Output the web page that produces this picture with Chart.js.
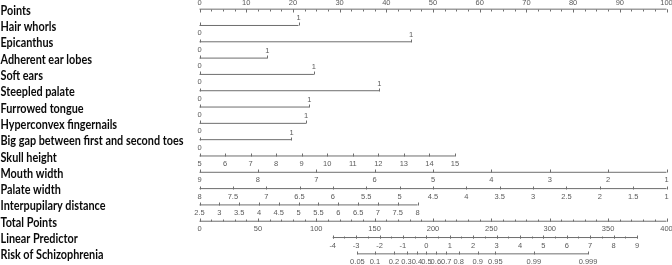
<!DOCTYPE html>
<html>
<head>
<meta charset="utf-8">
<script src="https://cdn.jsdelivr.net/npm/chart.js@4/dist/chart.umd.min.js"></script>
<style>
  html, body { margin: 0; padding: 0; background: #fff; }
  #wrap { width: 672px; height: 265px; }
</style>
</head>
<body>
<div id="wrap"><canvas id="nomo" width="672" height="265"></canvas></div>
<script>
// row titles, top to bottom
var rowNames = ["Points", "Hair whorls", "Epicanthus", "Adherent ear lobes", "Soft ears",
  "Steepled palate", "Furrowed tongue", "Hyperconvex fingernails",
  "Big gap between first and second toes", "Skull height", "Mouth width",
  "Palate width", "Interpupilary distance", "Total Points", "Linear Predictor",
  "Risk of Schizophrenia"];

// points axis
var pointsTicks = [0, 10, 20, 30, 40, 50, 60, 70, 80, 90, 100];
var pointsMinor = 2.5;

// binary predictors: points given for "1" (0 -> 0 points)
var binaryPoints = [21.2, 45.3, 14.5, 24.5, 38.5, 23.5, 22.8, 19.7];

// continuous predictors: tick values, points at last tick (first tick = 0 points)
var skullTicks = [5, 6, 7, 8, 9, 10, 11, 12, 13, 14, 15];
var skullMaxPoints = 54.7;
var mouthTicks = [9, 8, 7, 6, 5, 4, 3, 2, 1];
var mouthMaxPoints = 100;
var palateTicks = [8, 7.5, 7, 6.5, 6, 5.5, 5, 4.5, 4, 3.5, 3, 2.5, 2, 1.5, 1];
var palateMaxPoints = 100;
var interTicks = [2.5, 3, 3.5, 4, 4.5, 5, 5.5, 6, 6.5, 7, 7.5, 8];
var interMaxPoints = 46.7;

// total points / linear predictor / risk
var totalTicks = [0, 50, 100, 150, 200, 250, 300, 350, 400];
var totalMinor = 10;
var lpTicks = [-4, -3, -2, -1, 0, 1, 2, 3, 4, 5, 6, 7, 8, 9];
var lpMinor = 0.5;
var riskTicks = [0.05, 0.1, 0.2, 0.3, 0.4, 0.5, 0.6, 0.7, 0.8, 0.9, 0.95, 0.99, 0.999];
var lpZeroTotal = 194.3;   // total points where linear predictor = 0
var totalPerLp = 20.05;    // total points per unit of linear predictor

var lineColor = "#6e6e6e";
var tickColor = "#5a5a5a";

function totalToPts(t) { return t / 4; }
function lpToPts(lp) { return totalToPts(lpZeroTotal + totalPerLp * lp); }

// build axis descriptions
var axes = [];
axes.push({
  row: 0, side: "above",
  ticks: pointsTicks.map(function (v) { return { pts: v, label: String(v) }; }),
  minor: (function () { var m = []; for (var v = 0; v <= 100; v += pointsMinor) m.push(v); return m; })()
});
for (var b = 0; b < binaryPoints.length; b++) {
  axes.push({ row: b + 1, binary: true, ticks: [{ pts: 0, label: "0" }, { pts: binaryPoints[b], label: "1" }], minor: [] });
}
function contAxis(row, ticks, maxPts) {
  var t0 = ticks[0], tn = ticks[ticks.length - 1];
  return {
    row: row, side: "below",
    ticks: ticks.map(function (v) { return { pts: (v - t0) / (tn - t0) * maxPts, label: String(v) }; }),
    minor: []
  };
}
axes.push(contAxis(9, skullTicks, skullMaxPoints));
axes.push(contAxis(10, mouthTicks, mouthMaxPoints));
axes.push(contAxis(11, palateTicks, palateMaxPoints));
axes.push(contAxis(12, interTicks, interMaxPoints));
axes.push({
  row: 13, side: "below",
  ticks: totalTicks.map(function (v) { return { pts: totalToPts(v), label: String(v) }; }),
  minor: (function () { var m = []; for (var v = 0; v <= 400; v += totalMinor) m.push(totalToPts(v)); return m; })()
});
axes.push({
  row: 14, side: "below",
  ticks: lpTicks.map(function (v) { return { pts: lpToPts(v), label: String(v) }; }),
  minor: (function () { var m = []; for (var v = lpTicks[0]; v <= lpTicks[lpTicks.length - 1]; v += lpMinor) m.push(lpToPts(v)); return m; })()
});
axes.push({
  row: 15, side: "below",
  ticks: riskTicks.map(function (p) { return { pts: lpToPts(Math.log(p / (1 - p))), label: String(p) }; }),
  minor: []
});

var datasets = axes.map(function (a) {
  var first = a.ticks[0].pts, last = a.ticks[a.ticks.length - 1].pts;
  return {
    data: [{ x: Math.min(first, last), y: a.row }, { x: Math.max(first, last), y: a.row }],
    borderColor: lineColor,
    borderWidth: 1,
    pointRadius: 0,
    clip: false
  };
});

var nomoPlugin = {
  id: "nomo",
  afterDatasetsDraw: function (chart) {
    var ctx = chart.ctx, xs = chart.scales.x, ys = chart.scales.y;
    ctx.save();
    // row names (squeezed a little to match the narrow bold face)
    ctx.fillStyle = "#0a0a0a";
    ctx.font = "bold 12.5px Lato";
    ctx.textAlign = "left";
    ctx.textBaseline = "middle";
    var w = ctx.measureText(rowNames[8]).width;
    var sx = Math.min(1, 183 / w);
    rowNames.forEach(function (n, i) {
      ctx.save();
      ctx.translate(0.5, ys.getPixelForValue(i) + 1.5);
      ctx.scale(sx, 1);
      ctx.fillText(n, 0, 0);
      ctx.restore();
    });
    // ticks + labels
    ctx.strokeStyle = lineColor;
    ctx.lineWidth = 1;
    ctx.font = "7.5px 'Liberation Sans'";
    ctx.fillStyle = tickColor;
    ctx.textAlign = "center";
    axes.forEach(function (a) {
      var y = Math.round(ys.getPixelForValue(a.row)) + 0.5;
      var dir = (a.side === "above") ? 1 : -1;
      ctx.beginPath();
      a.minor.forEach(function (p) {
        var x = Math.round(xs.getPixelForValue(p)) + 0.5;
        ctx.moveTo(x, y); ctx.lineTo(x, y + dir * 2);
      });
      a.ticks.forEach(function (t) {
        var x = Math.round(xs.getPixelForValue(t.pts)) + 0.5;
        ctx.moveTo(x, y); ctx.lineTo(x, y + (a.binary ? -3 : dir * 3));
      });
      ctx.stroke();
      a.ticks.forEach(function (t, k) {
        var x = xs.getPixelForValue(t.pts);
        var ly;
        if (a.binary) ly = (k === 0) ? y + 7.5 : y - 7.5;
        else ly = (a.side === "above") ? y - 6.5 : y + 7.5;
        ctx.fillText(t.label, x, ly);
      });
    });
    ctx.restore();
  }
};

new Chart(document.getElementById("nomo"), {
  type: "line",
  data: { datasets: datasets },
  options: {
    responsive: false,
    animation: false,
    devicePixelRatio: 1,
    layout: { padding: { left: 199.5, right: 5.5, top: 1, bottom: 3 } },
    plugins: { legend: { display: false }, tooltip: { enabled: false } },
    scales: {
      x: { type: "linear", min: 0, max: 100, display: false },
      y: { type: "linear", min: -0.5, max: 15.5, reverse: true, display: false }
    }
  },
  plugins: [nomoPlugin]
});
</script>
</body>
</html>
